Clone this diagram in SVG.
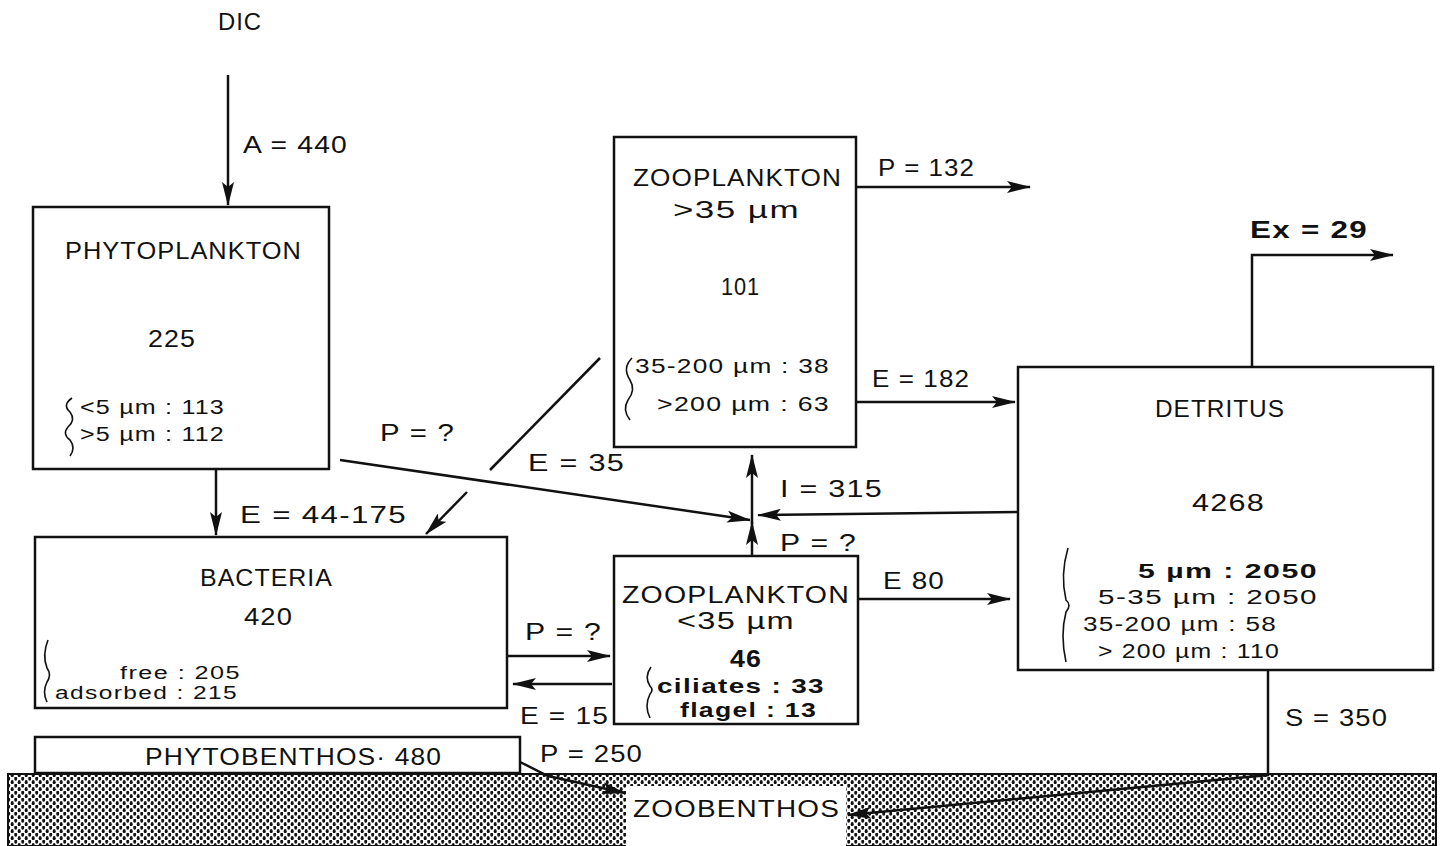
<svg xmlns="http://www.w3.org/2000/svg" width="1444" height="846" viewBox="0 0 1444 846">
<style>
text{font-family:"Liberation Sans",Arial,sans-serif;fill:#111;font-size:24px;letter-spacing:1px}
.s{font-size:20.5px}
.t{font-size:17.5px}
.b{font-weight:bold}
.box{fill:#fff;stroke:#111;stroke-width:2.5}
.ln{fill:none;stroke:#111;stroke-width:2.5}
.br{fill:none;stroke:#111;stroke-width:1.6}
</style>
<defs>
<marker id="ah" viewBox="0 0 24 12" refX="23" refY="6" markerWidth="24" markerHeight="12" markerUnits="userSpaceOnUse" orient="auto">
<path d="M0,0 L24,6 L0,12 L5,6 Z" fill="#111"/>
</marker>
<pattern id="dots" width="7" height="7" patternUnits="userSpaceOnUse">
<rect width="7" height="7" fill="#fff"/>
<ellipse cx="1.7" cy="1.7" rx="1.5" ry="2.1" fill="#111"/>
<ellipse cx="5.2" cy="5.2" rx="1.5" ry="2.1" fill="#111"/>
</pattern>
</defs>

<g id="zoobenthos">
<rect x="8" y="774" width="1428" height="72" fill="url(#dots)" stroke="#111" stroke-width="2"/>
<rect x="626" y="786" width="220" height="60" fill="#fff"/>
<text x="633" y="817" textLength="207" lengthAdjust="spacingAndGlyphs">ZOOBENTHOS</text>
</g>

<g id="dic"><text x="218" y="30" textLength="44" lengthAdjust="spacingAndGlyphs">DIC</text></g>

<g id="phytoplankton">
<rect class="box" x="33" y="207" width="296" height="262"/>
<text x="65" y="259" textLength="237" lengthAdjust="spacingAndGlyphs">PHYTOPLANKTON</text>
<text x="148" y="347" textLength="48" lengthAdjust="spacingAndGlyphs">225</text>
<path class="br" d="M72,398 Q62,405 70,412 Q76,420 68,427 Q62,434 70,440 Q76,448 70,456"/>
<text x="80" y="414" class="s" textLength="145" lengthAdjust="spacingAndGlyphs">&lt;5 µm : 113</text>
<text x="80" y="441" class="s" textLength="145" lengthAdjust="spacingAndGlyphs">&gt;5 µm : 112</text>
</g>

<g id="zooplankton-large">
<rect class="box" x="614" y="137" width="242" height="310"/>
<text x="633" y="186" textLength="209" lengthAdjust="spacingAndGlyphs">ZOOPLANKTON</text>
<text x="673" y="218" textLength="127" lengthAdjust="spacingAndGlyphs">&gt;35 µm</text>
<text x="721" y="295" textLength="39" lengthAdjust="spacingAndGlyphs">101</text>
<path class="br" d="M632,358 Q622,368 630,380 Q636,390 628,400 Q622,410 630,420"/>
<text x="635" y="373" class="s" textLength="195" lengthAdjust="spacingAndGlyphs">35-200 µm : 38</text>
<text x="657" y="411" class="s" textLength="173" lengthAdjust="spacingAndGlyphs">&gt;200 µm : 63</text>
</g>

<g id="detritus">
<rect class="box" x="1018" y="367" width="415" height="303"/>
<text x="1155" y="417" textLength="130" lengthAdjust="spacingAndGlyphs">DETRITUS</text>
<text x="1192" y="511" textLength="73" lengthAdjust="spacingAndGlyphs">4268</text>
<path class="br" d="M1068,548 Q1060,575 1066,600 Q1072,605 1066,612 Q1060,635 1066,662"/>
<text x="1138" y="578" class="s b" textLength="180" lengthAdjust="spacingAndGlyphs">5  µm : 2050</text>
<text x="1098" y="604" class="s" textLength="220" lengthAdjust="spacingAndGlyphs">5-35 µm : 2050</text>
<text x="1083" y="631" class="s" textLength="194" lengthAdjust="spacingAndGlyphs">35-200 µm : 58</text>
<text x="1098" y="658" class="s" textLength="182" lengthAdjust="spacingAndGlyphs">&gt; 200 µm : 110</text>
</g>

<g id="bacteria">
<rect class="box" x="35" y="537" width="472" height="171"/>
<text x="200" y="586" textLength="133" lengthAdjust="spacingAndGlyphs">BACTERIA</text>
<text x="244" y="625" textLength="49" lengthAdjust="spacingAndGlyphs">420</text>
<path class="br" d="M48,640 Q42,655 47,668 Q52,675 47,682 Q42,692 47,702"/>
<text x="120" y="679" class="t" textLength="121" lengthAdjust="spacingAndGlyphs">free : 205</text>
<text x="55" y="699" class="t" textLength="183" lengthAdjust="spacingAndGlyphs">adsorbed : 215</text>
</g>

<g id="zooplankton-small">
<rect class="box" x="614" y="556" width="244" height="168"/>
<text x="622" y="603" textLength="228" lengthAdjust="spacingAndGlyphs">ZOOPLANKTON</text>
<text x="677" y="629" textLength="118" lengthAdjust="spacingAndGlyphs">&lt;35 µm</text>
<text x="730" y="667" class="b" textLength="32" lengthAdjust="spacingAndGlyphs">46</text>
<path class="br" d="M651,667 Q644,677 650,686 Q654,690 650,694 Q644,706 650,718"/>
<text x="657" y="693" class="s b" textLength="168" lengthAdjust="spacingAndGlyphs">ciliates : 33</text>
<text x="680" y="717" class="s b" textLength="137" lengthAdjust="spacingAndGlyphs">flagel : 13</text>
</g>

<g id="phytobenthos">
<rect class="box" x="35" y="737" width="485" height="36"/>
<text x="145" y="765" textLength="297" lengthAdjust="spacingAndGlyphs">PHYTOBENTHOS· 480</text>
</g>

<g id="connectors">
<line class="ln" x1="228" y1="75" x2="228" y2="205" marker-end="url(#ah)"/>
<text x="243" y="153" textLength="105" lengthAdjust="spacingAndGlyphs">A = 440</text>

<line class="ln" x1="216" y1="469" x2="216" y2="535" marker-end="url(#ah)"/>
<text x="240" y="523" textLength="167" lengthAdjust="spacingAndGlyphs">E = 44-175</text>

<line class="ln" x1="340" y1="460" x2="750" y2="520" marker-end="url(#ah)"/>
<text x="380" y="441" textLength="75" lengthAdjust="spacingAndGlyphs">P = ?</text>

<line class="ln" x1="600" y1="358" x2="490" y2="470"/>
<line class="ln" x1="467" y1="492" x2="426" y2="534" marker-end="url(#ah)"/>
<text x="528" y="471" textLength="97" lengthAdjust="spacingAndGlyphs">E = 35</text>

<line class="ln" x1="1018" y1="512" x2="758" y2="515" marker-end="url(#ah)"/>

<line class="ln" x1="752" y1="556" x2="752" y2="522" marker-end="url(#ah)"/>
<line class="ln" x1="752" y1="524" x2="752" y2="455" marker-end="url(#ah)"/>
<text x="780" y="497" textLength="103" lengthAdjust="spacingAndGlyphs">I = 315</text>
<text x="780" y="551" textLength="77" lengthAdjust="spacingAndGlyphs">P = ?</text>

<line class="ln" x1="856" y1="187" x2="1030" y2="187" marker-end="url(#ah)"/>
<text x="878" y="176" textLength="97" lengthAdjust="spacingAndGlyphs">P = 132</text>

<line class="ln" x1="856" y1="402" x2="1015" y2="402" marker-end="url(#ah)"/>
<text x="872" y="387" textLength="98" lengthAdjust="spacingAndGlyphs">E = 182</text>

<polyline class="ln" points="1252,367 1252,255 1393,255" marker-end="url(#ah)"/>
<text x="1250" y="238" class="b" textLength="118" lengthAdjust="spacingAndGlyphs">Ex = 29</text>

<line class="ln" x1="858" y1="599" x2="1010" y2="599" marker-end="url(#ah)"/>
<text x="883" y="589" textLength="62" lengthAdjust="spacingAndGlyphs">E 80</text>

<line class="ln" x1="507" y1="656" x2="610" y2="656" marker-end="url(#ah)"/>
<text x="525" y="640" textLength="77" lengthAdjust="spacingAndGlyphs">P = ?</text>
<line class="ln" x1="612" y1="684" x2="513" y2="684" marker-end="url(#ah)"/>
<text x="520" y="724" textLength="89" lengthAdjust="spacingAndGlyphs">E = 15</text>

<polyline class="ln" points="520,762 548,776 625,793" marker-end="url(#ah)"/>
<text x="540" y="762" textLength="103" lengthAdjust="spacingAndGlyphs">P = 250</text>

<polyline class="ln" points="1268,670 1268,775 848,815" marker-end="url(#ah)"/>
<text x="1285" y="726" textLength="103" lengthAdjust="spacingAndGlyphs">S = 350</text>
</g>
</svg>
